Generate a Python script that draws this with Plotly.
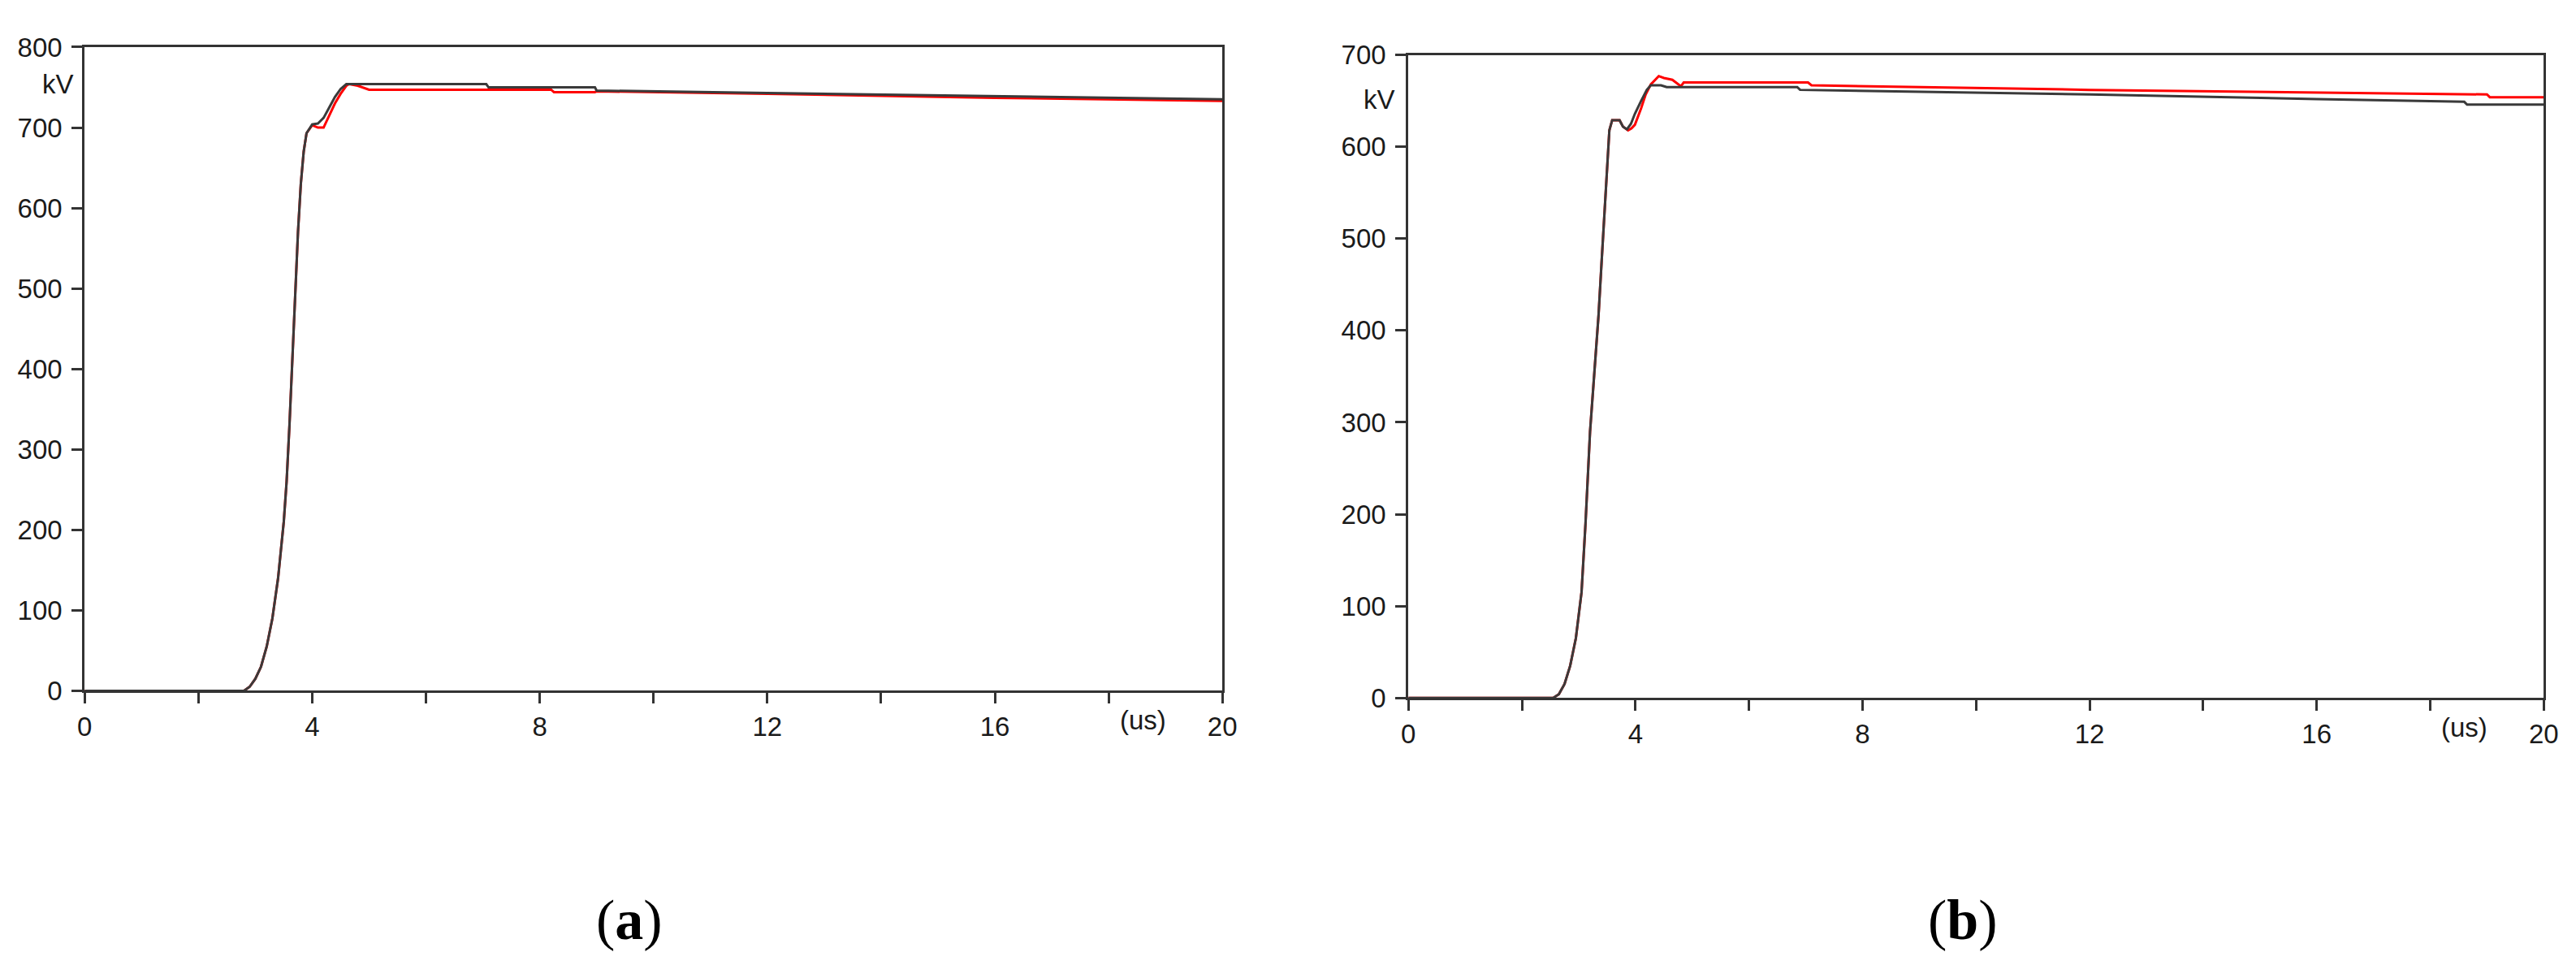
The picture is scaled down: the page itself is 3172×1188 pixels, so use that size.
# Two impulse-voltage waveforms (kV vs us), panels (a) and (b), red vs black traces
import plotly.graph_objects as go
from plotly.subplots import make_subplots

# Panel (a) - black trace
a_black_t = [0, 2.8, 2.9, 3.0, 3.1, 3.2, 3.3, 3.4, 3.5, 3.55, 3.6, 3.65, 3.7, 3.75,
             3.8, 3.85, 3.9, 4.0, 4.1, 4.2, 4.3, 4.4, 4.5, 4.6, 7.06, 7.1, 8.97,
             9.0, 12, 16, 20]
a_black_v = [0, 0, 5, 15, 30, 55, 90, 140, 210, 260, 330, 410, 490, 570,
             630, 670, 693, 704, 705, 712, 725, 738, 748, 754, 754, 750, 750,
             746, 743, 739, 735]

# Panel (a) - red trace
a_red_t = [0, 2.8, 2.9, 3.0, 3.1, 3.2, 3.3, 3.4, 3.5, 3.55, 3.6, 3.65, 3.7, 3.75,
           3.8, 3.85, 3.9, 4.0, 4.1, 4.2, 4.3, 4.4, 4.5, 4.6, 4.65, 4.8, 5.0,
           8.2, 8.25, 8.97, 9.0, 12, 16, 20]
a_red_v = [0, 0, 5, 15, 30, 55, 90, 140, 210, 260, 330, 410, 490, 570,
           630, 670, 693, 703, 700, 700, 715, 730, 742, 752, 754, 752, 747,
           747, 744, 744, 745, 742, 737, 733]

# Panel (b) - black trace
b_black_t = [0, 2.55, 2.65, 2.75, 2.85, 2.95, 3.05, 3.12, 3.2, 3.28, 3.35, 3.40,
             3.45, 3.49, 3.54, 3.59, 3.72, 3.78, 3.85, 3.92, 3.99, 4.1, 4.2,
             4.27, 4.45, 4.55, 6.85, 6.9, 12, 16, 18.6, 18.65, 20]
b_black_v = [0, 0, 4, 15, 35, 65, 115, 190, 290, 354, 417, 471,
             523, 574, 618, 629, 629, 622, 619, 625, 636, 650, 662,
             667, 667, 665, 665, 662, 657, 652, 649, 646, 646]

# Panel (b) - red trace
b_red_t = [0, 2.55, 2.65, 2.75, 2.85, 2.95, 3.05, 3.12, 3.2, 3.28, 3.35, 3.40,
           3.45, 3.49, 3.54, 3.59, 3.72, 3.78, 3.87, 3.93, 3.99, 4.1, 4.18,
           4.27, 4.41, 4.5, 4.65, 4.8, 4.85, 7.04, 7.1, 12, 16, 19.0, 19.05, 20]
b_red_v = [0, 0, 4, 15, 35, 65, 115, 190, 290, 354, 417, 471,
           523, 574, 618, 629, 629, 622, 618, 620, 624, 642, 657,
           668, 677, 675, 673, 666, 670, 670, 667, 662, 659, 657, 654, 654]

# Axis ticks
x_ticks = [0, 2, 4, 6, 8, 10, 12, 14, 16, 18, 20]
x_labels = ["0", "", "4", "", "8", "", "12", "", "16", "", "20"]
a_y_ticks = [0, 100, 200, 300, 400, 500, 600, 700, 800]
b_y_ticks = [0, 100, 200, 300, 400, 500, 600, 700]

W, H = 3172, 1188
AXIS = "#333333"
TICK_FONT = dict(family="Liberation Sans, Arial", size=33, color="#1a1a1a")

fig = make_subplots(rows=1, cols=2)

fig.add_trace(go.Scatter(x=a_red_t, y=a_red_v, mode="lines",
                         line=dict(color="#ff0000", width=3)), row=1, col=1)
fig.add_trace(go.Scatter(x=a_black_t, y=a_black_v, mode="lines",
                         line=dict(color="#3a3a3a", width=3)), row=1, col=1)
fig.add_trace(go.Scatter(x=b_red_t, y=b_red_v, mode="lines",
                         line=dict(color="#ff0000", width=3)), row=1, col=2)
fig.add_trace(go.Scatter(x=b_black_t, y=b_black_v, mode="lines",
                         line=dict(color="#3a3a3a", width=3)), row=1, col=2)

axis_common = dict(
    showline=True, mirror=True, linecolor=AXIS, linewidth=3,
    ticks="outside", ticklen=13, tickwidth=3, tickcolor=AXIS,
    showgrid=False, zeroline=False, tickfont=TICK_FONT,
)

fig.update_xaxes(axis_common, range=[0, 20], tickvals=x_ticks, ticktext=x_labels)
fig.update_yaxes(axis_common, ticklabelstandoff=5)

# Panel placement in pixels
fig.update_layout(
    xaxis=dict(domain=[88 / W, 1501 / W]),
    yaxis=dict(domain=[1 - 851 / H, 1 - 33 / H], range=[0, 800], tickvals=a_y_ticks),
    xaxis2=dict(domain=[1732 / W, 3142 / W]),
    yaxis2=dict(domain=[1 - 860 / H, 1 - 43 / H], range=[0, 700], tickvals=b_y_ticks),
)

annotations = [
    dict(x=77 / W, y=1 - 80 / H, text="kV", xanchor="right"),
    dict(x=1718 / W, y=1 - 100 / H, text="kV", xanchor="right"),
    dict(x=(88 + 18.6 * 70.65) / W, y=1 - 888 / H, text="(us)", xanchor="center"),
    dict(x=(1732 + 18.6 * 70.5) / W, y=1 - 897 / H, text="(us)", xanchor="center"),
]
for ann in annotations:
    ann.update(xref="paper", yref="paper", showarrow=False, yanchor="middle",
               font=TICK_FONT)

# Panel captions
for label, cx in (("a", 765), ("b", 2421)):
    annotations.append(dict(
        x=cx / W, y=1 - 1142 / H, xref="paper", yref="paper", showarrow=False,
        text=f"(<b>{label}</b>)", xanchor="center", yanchor="middle",
        font=dict(family="Liberation Serif, Times New Roman", size=70, color="#000000"),
    ))

fig.update_layout(
    width=W, height=H,
    margin=dict(l=0, r=0, t=0, b=0),
    paper_bgcolor="white", plot_bgcolor="white",
    showlegend=False,
    annotations=annotations,
)

fig.write_html("out.html")
